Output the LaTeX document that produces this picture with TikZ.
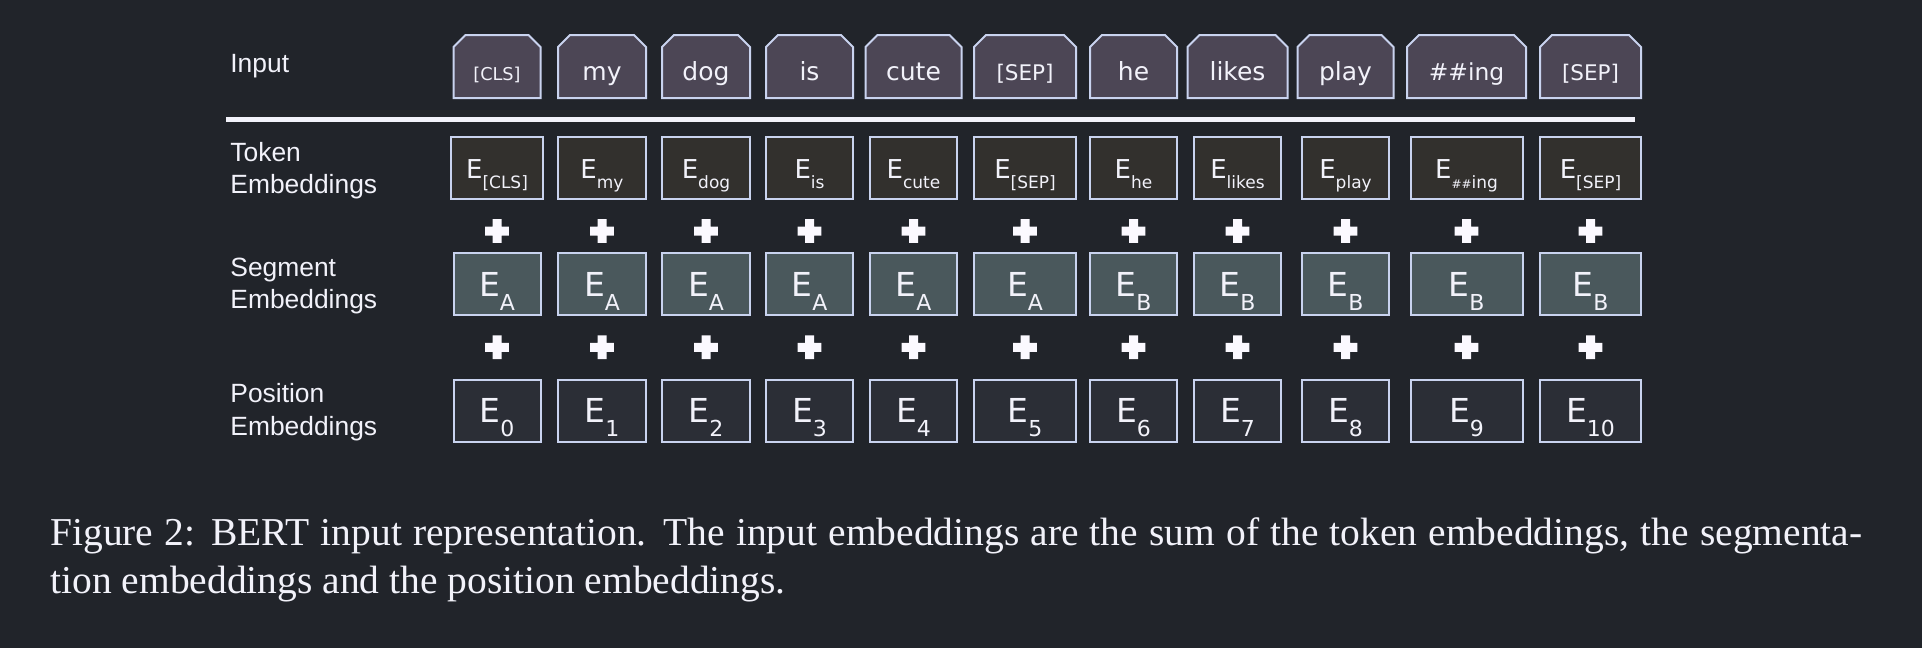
\documentclass[tikz,border=0pt]{standalone}
\usepackage{fontspec}
\setmainfont{Liberation Serif}
\newfontfamily\labelfont{Liberation Sans}
\newfontfamily\boxfont{DejaVu Sans}
\usetikzlibrary{shapes.misc,calc}
\definecolor{PageDark}{HTML}{21242A}
\definecolor{InputFill}{HTML}{4C4655}
\definecolor{TokenFill}{HTML}{32302D}
\definecolor{SegmentFill}{HTML}{4A585C}
\definecolor{PositionFill}{HTML}{2B2E36}
\definecolor{EdgeLight}{HTML}{C9D3EF}
\definecolor{TextLight}{HTML}{F2F2FA}
\definecolor{PlusWhite}{HTML}{FBF9FF}
\newcommand{\clsfont}{\fontsize{8.85}{8.85}\selectfont}
\newcommand{\sepfont}{\fontsize{10.75}{10.75}\selectfont}
\newcommand{\ingfont}{\fontsize{11.7}{11.7}\selectfont}
\newcommand{\hashes}{{\fontsize{6}{6}\selectfont\#\#}}
\newcommand{\tokE}[1]{{\fontsize{13}{13}\selectfont E}\raisebox{-5pt}{\fontsize{8.5}{8.5}\selectfont #1}}
\newcommand{\bigE}[1]{{\fontsize{16.5}{16.5}\selectfont E}\raisebox{-7pt}{\fontsize{11}{11}\selectfont #1}}
\tikzset{
  rowlabel/.style={anchor=base west,inner sep=0pt,align=left,text=TextLight,font=\labelfont\fontsize{13.2}{16.15}\selectfont},
  inbox/.style={chamfered rectangle,chamfered rectangle corners={north west,north east},chamfered rectangle xsep=3pt,chamfered rectangle ysep=3pt,draw=EdgeLight,fill=InputFill,line width=1pt,minimum height=31.5pt,inner sep=0pt,text height=13.5pt,text depth=0pt,text=TextLight,font=\boxfont\fontsize{12.5}{12.5}\selectfont},
  embbox/.style={rectangle,draw=EdgeLight,line width=1pt,minimum height=31pt,inner sep=0pt,text depth=0pt,text=TextLight,font=\boxfont},
  tokbox/.style={embbox,fill=TokenFill,text height=10.3pt},
  segbox/.style={embbox,fill=SegmentFill,text height=12pt},
  posbox/.style={embbox,fill=PositionFill,text height=12pt},
  sepline/.style={line width=2.2pt,draw=TextLight},
  plussign/.pic={\fill[PlusWhite] (-11.8,-4.5) rectangle (11.8,4.5) (-4.5,-11.8) rectangle (4.5,11.8);},
  caption/.style={anchor=base west,inner sep=0pt,text width=906pt,align=justify,text=TextLight,font=\fontsize{19.75}{24}\selectfont}
}
\begin{document}
\begin{tikzpicture}[x=0.5pt,y=-0.5pt]
\useasboundingbox[fill=PageDark] (0,0) rectangle (1922,648);
% row labels (base = last line)
\node[rowlabel] (lblin) at (230,72.3) {Input};
\node[rowlabel] (lbltok) at (230,193.3) {Token\\Embeddings};
\node[rowlabel] (lblseg) at (230,308.3) {Segment\\Embeddings};
\node[rowlabel] (lblpos) at (230,435) {Position\\Embeddings};
% separator under the input row
\coordinate (sepL) at (226,119.5);
\coordinate (sepR) at (1635,119.5);
\draw[sepline] (sepL) -- (sepR);
% one column per token
\foreach \i/\cx/\wi/\wt/\ws/\word/\tok/\seg in {
  1/497/89/94/89/{\clsfont [CLS]}/[CLS]/A,
  2/602/90/90/90/my/my/A,
  3/706/90/90/90/dog/dog/A,
  4/809.5/89/89/89/is/is/A,
  5/913.5/98/89/89/cute/cute/A,
  6/1025/104/104/104/{\sepfont [SEP]}/[SEP]/A,
  7/1133.5/89/89/89/he/he/B,
  8/1237.5/102/89/89/likes/likes/B,
  9/1345.5/98/89/89/play/play/B,
  10/1466.5/121/114/114/{\ingfont \#\#ing}/{\hashes ing}/B,
  11/1590.5/103/103/103/{\sepfont [SEP]}/[SEP]/B}{
  \node[inbox,minimum width=(\wi-2)*0.5pt] (in\i) at (\cx,66.5) {\word};
  \node[tokbox,minimum width=(\wt-2)*0.5pt] (tok\i) at (\cx,168) {\tokE{\tok}};
  \node[segbox,minimum width=(\ws-2)*0.5pt] (seg\i) at (\cx,284) {\bigE{\seg}};
  \node[posbox,minimum width=(\ws-2)*0.5pt] (pos\i) at (\cx,410.5) {\bigE{\the\numexpr\i-1\relax}};
  \pic at ($(tok\i.south)!0.5!(seg\i.north)+(0,5)$) {plussign};
  \pic at ($(seg\i.south)!0.5!(pos\i.north)$) {plussign};
}
% caption
\node[caption] (cap) at (50,545) {Figure 2: BERT input representation. The input embeddings are the sum of the token embeddings, the segmenta-\linebreak tion embeddings and the position embeddings.};
\end{tikzpicture}
\end{document}
